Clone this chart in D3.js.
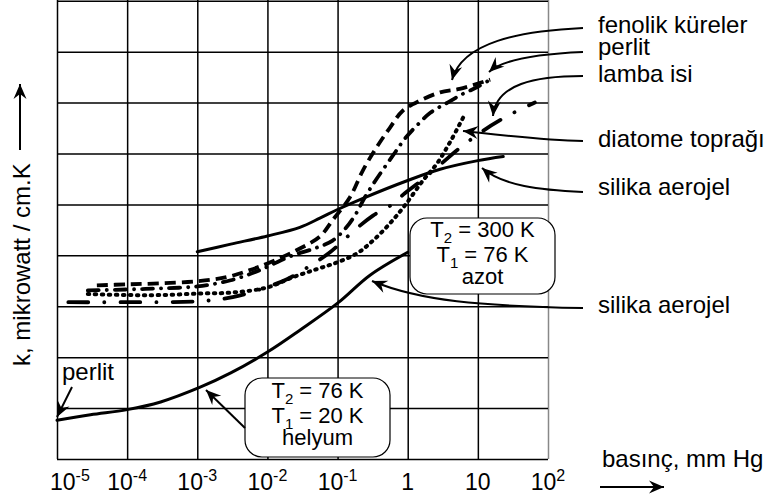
<!DOCTYPE html>
<html>
<head>
<meta charset="utf-8">
<script src="https://cdn.jsdelivr.net/npm/d3@7"></script>
<style>
body { margin: 0; background: #fff; }
text { font-family: "Liberation Sans", Arial, sans-serif; fill: #000; }
</style>
</head>
<body>
<div id="chart"></div>
<script>

// x axis: pressure, mm Hg (log)
var pressureTicks = [1e-5, 1e-4, 1e-3, 1e-2, 1e-1, 1, 10, 100]
var tickBase = ["10", "10", "10", "10", "10", "1", "10", "10"]
var tickExp = ["-5", "-4", "-3", "-2", "-1", "", "", "2"]

// y axis: k in grid units (no labels in the original)
var kGrid = 9

// T2 = 76 K, T1 = 20 K (helyum) - silika aerojel
var helyumP = [1e-5, 3e-5, 1e-4, 3e-4, 1.1e-3, 3e-3, 1e-2, 2.9e-2, 0.1, 0.29, 1]
var helyumK = [0.76, 0.87, 0.97, 1.12, 1.41, 1.69, 2.10, 2.53, 3.06, 3.61, 4.06]

// T2 = 300 K, T1 = 76 K (azot)
var silikaP = [1e-3, 3e-3, 1e-2, 2.9e-2, 5.6e-2, 0.1, 0.23, 1, 2.9, 10, 23]
var silikaK = [4.07, 4.22, 4.38, 4.55, 4.73, 4.90, 5.12, 5.47, 5.69, 5.86, 5.94]

var fenolikP = [3.7e-5, 1e-4, 3e-4, 1e-3, 2.6e-3, 5.6e-3, 1e-2, 2.6e-2, 5.6e-2, 8.5e-2, 0.15, 0.23, 0.36, 0.56, 0.85, 1.5, 2.9, 5.5, 15]
var fenolikK = [3.41, 3.43, 3.45, 3.49, 3.57, 3.71, 3.84, 4.10, 4.37, 4.69, 5.14, 5.67, 6.12, 6.51, 6.84, 7.04, 7.20, 7.27, 7.45]

var perlitP = [2.75e-5, 1e-4, 3e-4, 1e-3, 3e-3, 7.8e-3, 2.1e-2, 4.8e-2, 8.5e-2, 0.13, 0.18, 0.245, 0.34, 0.48, 0.66, 0.91, 1.35, 2.1, 3.7, 5.9, 10, 15]
var perlitK = [3.31, 3.33, 3.35, 3.39, 3.51, 3.71, 3.98, 4.14, 4.29, 4.53, 4.80, 5.14, 5.45, 5.75, 6.02, 6.29, 6.55, 6.80, 7.00, 7.16, 7.31, 7.45]

var lambaP = [1.45e-5, 1e-4, 1.1e-3, 3.2e-3, 7.8e-3, 1.9e-2, 3.6e-2, 7.8e-2, 0.18, 0.32, 0.6, 0.91, 1.5, 2.9, 5.2, 12, 23, 37, 65]
var lambaK = [3.08, 3.08, 3.10, 3.18, 3.33, 3.53, 3.75, 4.06, 4.51, 4.78, 5.00, 5.22, 5.45, 5.78, 6.08, 6.45, 6.69, 6.84, 7.00]

var diatomeP = [2.75e-5, 1e-4, 3e-4, 1.1e-3, 3.2e-3, 1e-2, 2.3e-2, 5.1e-2, 9.8e-2, 0.19, 0.32, 0.56, 0.91, 1.65, 2.6, 4.0, 6.3]
var diatomeK = [3.24, 3.22, 3.22, 3.25, 3.27, 3.37, 3.57, 3.73, 3.86, 4.04, 4.29, 4.63, 4.98, 5.47, 5.80, 6.22, 6.73]

function zip(p, k) {
    return p.map(function (d, i) { return [d, k[i]] })
}

var series = [
    {pts: zip(helyumP, helyumK), dash: null, w: 3, cap: "round"},
    {pts: zip(silikaP, silikaK), dash: null, w: 3, cap: "round"},
    {pts: zip(lambaP, lambaK), dash: "20,16,0.1,16", w: 3.8, cap: "round"},
    {pts: zip(diatomeP, diatomeK), dash: "1.5,5.5", w: 4, cap: "round"},
    {pts: zip(perlitP, perlitK), dash: "11,8,0.1,8", w: 3.8, cap: "round"},
    {pts: zip(fenolikP, fenolikK), dash: "11,6", w: 3.8, cap: "butt"}
]

var W = 769, H = 501
var plotL = 57, plotR = 548, plotT = 0.75, plotB = 459

var x = d3.scaleLog().domain([1e-5, 100]).range([plotL, plotR])
var y = d3.scaleLinear().domain([0, kGrid]).range([plotB, plotT])

var svg = d3.select("#chart")
    .append("svg")
    .attr("width", W)
    .attr("height", H)

var defs = svg.append("defs")
defs.append("marker")
    .attr("id", "ah")
    .attr("viewBox", "-17 -8 19 16")
    .attr("refX", 0)
    .attr("refY", 0)
    .attr("markerWidth", 19)
    .attr("markerHeight", 16)
    .attr("markerUnits", "userSpaceOnUse")
    .attr("orient", "auto")
    .append("path")
    .attr("d", "M0,0 L-15,-6.5 L-10,0 L-15,6.5 Z")
    .attr("fill", "#000")

// grid
var gx = svg.append("g")
    .attr("transform", "translate(0," + plotB + ")")
    .call(d3.axisBottom(x).tickValues(pressureTicks).tickSize(-plotB).tickFormat(""))
gx.select(".domain").remove()
gx.selectAll(".tick line")
    .attr("stroke", function (d, i) { return i == pressureTicks.length - 1 ? "#888" : "#000" })
    .attr("stroke-width", 1.5)

var gy = svg.append("g")
    .attr("transform", "translate(" + plotL + ",0)")
    .call(d3.axisLeft(y).ticks(kGrid).tickSize(-(plotR - plotL)).tickFormat(""))
gy.select(".domain").remove()
gy.selectAll(".tick line")
    .attr("stroke", "#000")
    .attr("stroke-width", 1.5)

// tick labels
var lab = svg.append("g").selectAll("text")
    .data(pressureTicks)
    .enter()
    .append("text")
    .attr("x", function (d, i) { return i == 0 ? 50 : x(d) })
    .attr("y", 490)
    .attr("font-size", 23)
    .attr("text-anchor", function (d, i) { return i == 0 ? "start" : "middle" })
lab.append("tspan").text(function (d, i) { return tickBase[i] })
lab.append("tspan")
    .attr("dy", -9)
    .attr("font-size", 16)
    .text(function (d, i) { return tickExp[i] })

// curves
var line = d3.line()
    .x(function (d) { return x(d[0]) })
    .y(function (d) { return y(d[1]) })
    .curve(d3.curveCatmullRom.alpha(0.5))

svg.append("g").selectAll("path")
    .data(series)
    .enter()
    .append("path")
    .attr("d", function (d) { return line(d.pts) })
    .attr("fill", "none")
    .attr("stroke", "#000")
    .attr("stroke-width", function (d) { return d.w })
    .attr("stroke-linecap", function (d) { return d.cap })
    .attr("stroke-dasharray", function (d) { return d.dash })

// boxes
function box(bx, by, bw, bh, lines) {
    svg.append("rect")
        .attr("x", bx).attr("y", by)
        .attr("width", bw).attr("height", bh)
        .attr("rx", 17).attr("ry", 17)
        .attr("fill", "#fff")
        .attr("stroke", "#000")
        .attr("stroke-width", 1.2)
    var cx = bx + bw / 2
    lines.forEach(function (l) {
        var t = svg.append("text")
            .attr("x", cx).attr("y", l.y)
            .attr("font-size", 22)
            .attr("text-anchor", "middle")
        if (l.sub) {
            t.append("tspan").text("T")
            t.append("tspan").attr("dy", 6).attr("font-size", 15).text(l.sub)
            t.append("tspan").attr("dy", -6).text(l.rest)
        } else {
            t.text(l.rest)
        }
    })
}

box(410, 218, 145, 76, [
    {y: 237, sub: "2", rest: " = 300 K"},
    {y: 262, sub: "1", rest: " = 76 K"},
    {y: 284, rest: "azot"}
])
box(245, 378, 145, 79, [
    {y: 398, sub: "2", rest: " = 76 K"},
    {y: 423, sub: "1", rest: " = 20 K"},
    {y: 445, rest: "helyum"}
])

// labels with arrows
var notes = [
    {t: "fenolik küreler", tx: 598, ty: 33, d: "M583,28 C520,31 462,42 452,80"},
    {t: "perlit", tx: 598, ty: 55, d: "M583,52 C535,54 502,60 489,72"},
    {t: "lamba isi", tx: 598, ty: 82, d: "M583,76 C535,76 496,84 493,116"},
    {t: "diatome toprağı", tx: 598, ty: 147, d: "M583,141 C540,140 492,134 463,131"},
    {t: "silika aerojel", tx: 598, ty: 195, d: "M583,192 C540,190 503,186 482,168"},
    {t: "silika aerojel", tx: 598, ty: 313, d: "M583,308 C480,306 420,301 372,281"},
    {t: "perlit", tx: 62, ty: 380, d: "M72,387 L57,417"},
    {t: "", tx: 0, ty: 0, d: "M245,428 L206,390"}
]

svg.append("g").selectAll("path")
    .data(notes)
    .enter()
    .append("path")
    .attr("d", function (d) { return d.d })
    .attr("fill", "none")
    .attr("stroke", "#000")
    .attr("stroke-width", 2)
    .attr("marker-end", "url(#ah)")

svg.append("g").selectAll("text")
    .data(notes.filter(function (d) { return d.t != "" }))
    .enter()
    .append("text")
    .attr("x", function (d) { return d.tx })
    .attr("y", function (d) { return d.ty })
    .attr("font-size", 24)
    .text(function (d) { return d.t })

// axis titles
svg.append("text")
    .attr("transform", "translate(30,366) rotate(-90)")
    .attr("font-size", 24)
    .text("k, mikrowatt / cm.K")
svg.append("path")
    .attr("d", "M20,150 L20,84")
    .attr("stroke", "#000")
    .attr("stroke-width", 2)
    .attr("marker-end", "url(#ah)")

svg.append("text")
    .attr("x", 602)
    .attr("y", 467)
    .attr("font-size", 24)
    .text("basınç, mm Hg")
svg.append("path")
    .attr("d", "M600,487 L664,487")
    .attr("stroke", "#000")
    .attr("stroke-width", 2)
    .attr("marker-end", "url(#ah)")

</script>
</body>
</html>
